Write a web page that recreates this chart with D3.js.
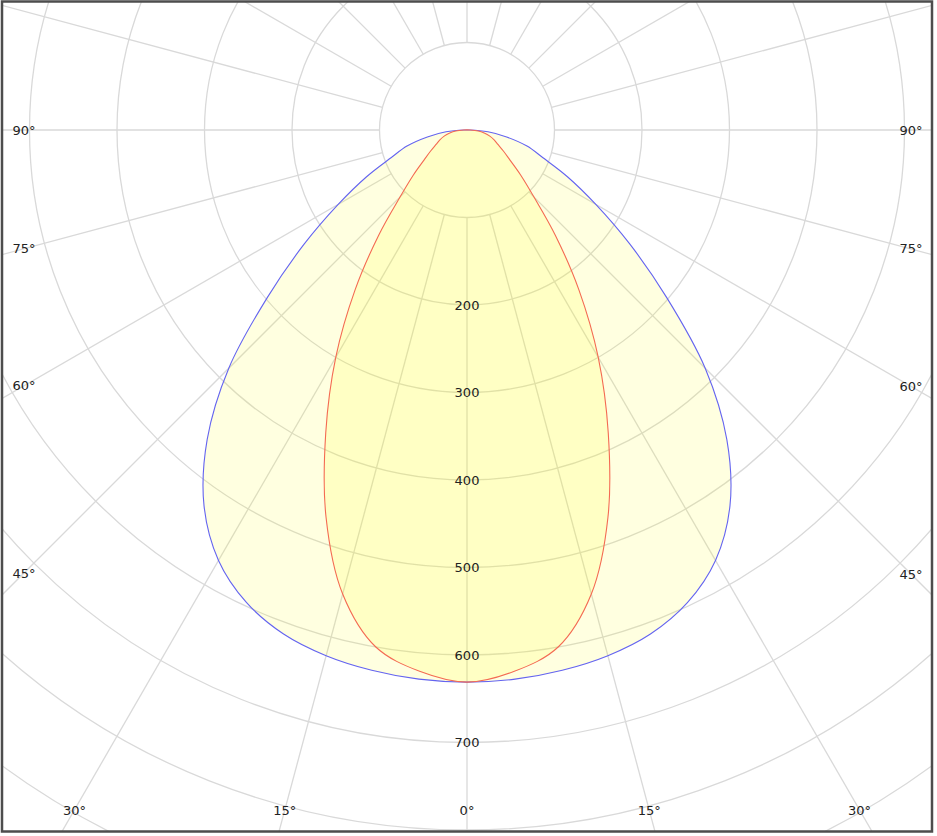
<!DOCTYPE html>
<html>
<head>
<meta charset="utf-8">
<script src="https://cdn.jsdelivr.net/npm/d3@7"></script>
<style>
  html, body { margin: 0; padding: 0; background: #fff; }
  svg { display: block; }
  text { font-family: "DejaVu Sans", Verdana, sans-serif; font-size: 13px; fill: #222; }
</style>
</head>
<body>
<script>
// Gamma angles (degrees from nadir), symmetric distribution
const angles = [0, 5, 10, 15, 20, 25, 30, 35, 40, 45, 50, 55, 60, 65, 70, 75, 80, 85, 90];
// Luminous intensity, plane C0-C180 (blue curve)
const planeC0 = [631, 630, 627, 622, 613, 596, 568, 524, 462, 385, 298, 227, 170, 127, 92, 71, 46, 24, 3];
// Luminous intensity, plane C90-C270 (red curve)
const planeC90 = [631, 621, 600, 549, 471, 382, 300, 223, 157, 108, 80, 60, 48, 39, 33, 27, 20, 13, 4];
// Grid
const ringValues = [100, 200, 300, 400, 500, 600, 700, 800, 900, 1000, 1100];
const ringLabels = [200, 300, 400, 500, 600, 700];
const spokeAngles = d3.range(-180, 180, 15);
const sideLabelAngles = [90, 75, 60, 45];
const bottomLabelAngles = [30, 15, 0];

const W = 937, H = 836;
const cx = 467, cy = 130;
const frame = {x: 2, y: 1.5, w: 930, h: 830};

const r = d3.scaleLinear().domain([0, 800]).range([0, 700]);

const svg = d3.select("body").append("svg").attr("width", W).attr("height", H);
svg.append("rect").attr("width", W).attr("height", H).attr("fill", "#fff");

svg.append("clipPath").attr("id", "clip")
  .append("rect").attr("x", frame.x).attr("y", frame.y).attr("width", frame.w).attr("height", frame.h);

const g = svg.append("g").attr("clip-path", "url(#clip)");
const c = g.append("g").attr("transform", `translate(${cx},${cy})`);

const rad = d => d * Math.PI / 180;
const px = (theta, v) => r(v) * Math.sin(rad(theta));
const py = (theta, v) => r(v) * Math.cos(rad(theta));

// rings
c.selectAll("circle.ring").data(ringValues).join("circle")
  .attr("class", "ring")
  .attr("r", d => r(d))
  .attr("fill", "none")
  .attr("stroke", "#d9d9d9")
  .attr("stroke-width", 1.3);

// spokes
c.selectAll("line.spoke").data(spokeAngles).join("line")
  .attr("class", "spoke")
  .attr("x1", d => px(d, 100)).attr("y1", d => py(d, 100))
  .attr("x2", d => px(d, 1400)).attr("y2", d => py(d, 1400))
  .attr("stroke", "#d9d9d9")
  .attr("stroke-width", 1.3);

// curves
function buildPoints(vals) {
  const pts = [];
  for (let i = angles.length - 1; i >= 1; i--) pts.push({a: -angles[i], v: vals[i]});
  for (let i = 0; i < angles.length; i++) pts.push({a: angles[i], v: vals[i]});
  return pts;
}
const line = d3.lineRadial()
  .angle(d => Math.PI - rad(d.a))
  .radius(d => r(d.v))
  .curve(d3.curveCatmullRomClosed);

const series = [
  {vals: planeC0, stroke: "#6464f0"},
  {vals: planeC90, stroke: "#f46a52"}
];
series.forEach(s => {
  c.append("path").attr("d", line(buildPoints(s.vals)))
    .attr("fill", "#ffff00").attr("fill-opacity", 0.12).attr("stroke", "none");
});
series.forEach(s => {
  c.append("path").attr("d", line(buildPoints(s.vals)))
    .attr("fill", "none").attr("stroke", s.stroke).attr("stroke-width", 1.1);
});

// radial value labels
c.selectAll("text.rlab").data(ringLabels).join("text")
  .attr("class", "rlab")
  .attr("x", 0).attr("y", d => r(d))
  .attr("text-anchor", "middle").attr("dominant-baseline", "central")
  .text(d => d);

// angle labels on the sides
sideLabelAngles.forEach(a => {
  const t = Math.tan(rad(a));
  const yL = (cx - 24) / t;
  g.append("text").attr("x", 24).attr("y", cy + yL)
    .attr("text-anchor", "middle").attr("dominant-baseline", "central").text(a + "°");
  const yR = (911 - cx) / t;
  g.append("text").attr("x", 911).attr("y", cy + yR)
    .attr("text-anchor", "middle").attr("dominant-baseline", "central").text(a + "°");
});
// bottom angle labels
const by = 810;
bottomLabelAngles.forEach(a => {
  const dx = (by - cy) * Math.tan(rad(a));
  const xs = a === 0 ? [cx] : [cx - dx, cx + dx];
  xs.forEach(x => {
    g.append("text").attr("x", x).attr("y", by)
      .attr("text-anchor", "middle").attr("dominant-baseline", "central").text(a + "°");
  });
});

// frame
svg.append("rect").attr("x", frame.x).attr("y", frame.y).attr("width", frame.w).attr("height", frame.h)
  .attr("fill", "none").attr("stroke", "#4d4d4d").attr("stroke-width", 2.5);
</script>
</body>
</html>
